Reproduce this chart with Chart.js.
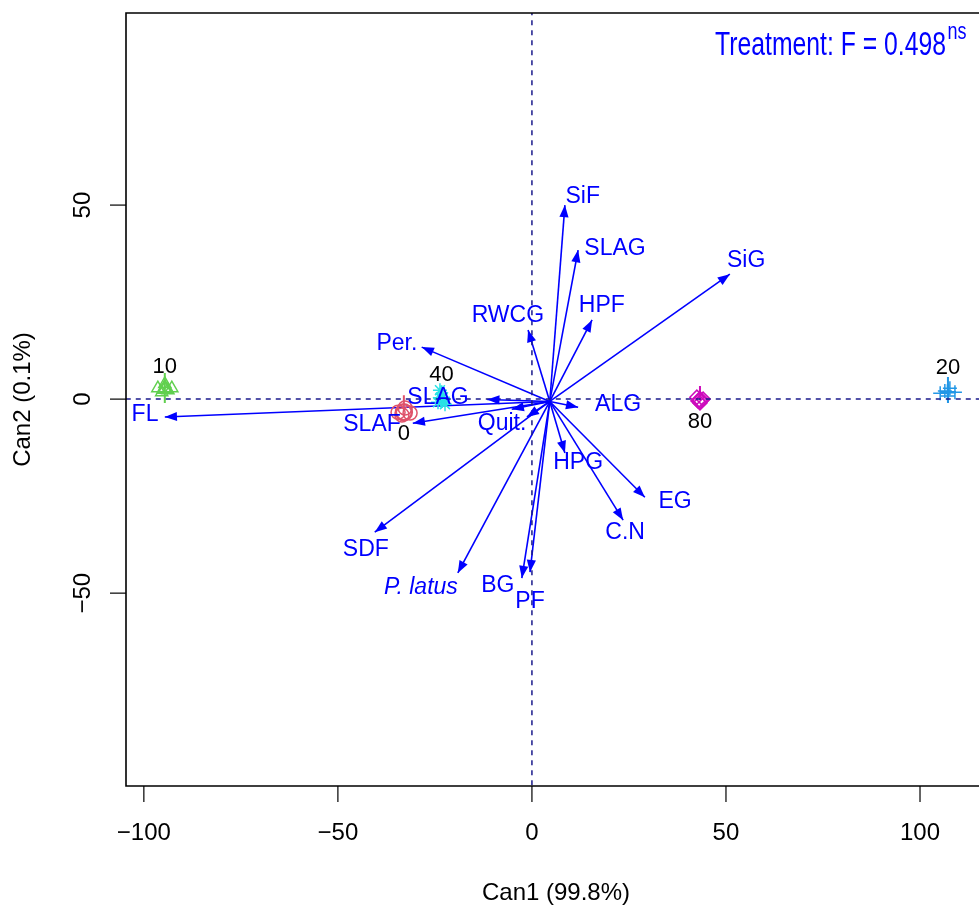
<!DOCTYPE html>
<html>
<head>
<meta charset="utf-8">
<script src="https://cdn.jsdelivr.net/npm/chart.js@4.4.1/dist/chart.umd.min.js"></script>
<style>
  body { margin: 0; overflow: hidden; background: #fff; }
  #wrap { width: 979px; height: 905px; }
</style>
</head>
<body>
<div id="wrap"><canvas id="can" width="979" height="905"></canvas></div>
<script>
// =====================================
// DATA
// =====================================
const ORIGIN = [4.6, -0.6];

const arrowNames = ["FL", "SLAF", "SLAG", "", "Quit.", "Per.", "RWCG", "SiF", "SLAG", "HPF",
                    "SiG", "ALG", "HPG", "EG", "C.N", "SDF", "P. latus", "BG", "PF"];
const arrowX = [-94.6, -30.7, -11.5, -5.2, -1.3, -28.4, -1.0, 8.5, 11.9, 15.5,
                51.0, 11.9, 8.5, 29.1, 23.5, -40.5, -19.1, -2.6, -0.5];
const arrowY = [-4.6, -6.2, -0.1, -2.6, -4.6, 13.4, 17.8, 50.0, 38.4, 20.4,
                32.2, -2.1, -13.9, -25.3, -31.2, -34.3, -44.8, -46.1, -44.6];
const labelX = [-99.7, -41.2, -24.2, 0, -7.7, -34.8, -6.2, 13.1, 21.4, 18.0,
                55.2, 22.2, 11.9, 36.9, 24.0, -42.8, -28.6, -8.8, -0.5];
const labelY = [-3.9, -6.7, 0.5, 0, -6.2, 14.4, 21.4, 52.1, 38.7, 24.2,
                35.6, -1.5, -16.5, -26.3, -34.3, -38.7, -48.5, -48.2, -52.1];

const groups = ["0", "10", "20", "40", "80"];
const groupColors = ["#DF536B", "#61D04F", "#2297E6", "#28E2E5", "#CD0BBC"];
const groupStyles = ["circle", "triangle", "cross", "star", "rectRot"];
const centerX = [-33.0, -94.6, 107.2, -23.3, 43.3];
const centerY = [-3.4, 2.7, 1.8, 0.2, -0.3];
const groupLabelY = [-9.0, 8.2, 8.0, 6.2, -5.9];
const spikeTop = [1.0, 6.7, 5.7, 3.6, 3.4];
const spikeBottom = [-3.0, -1.0, -1.0, -2.3, -0.3];
const repX = [
  [-34.5, -32.7, -31.4, -33.5],
  [-96.4, -94.6, -92.8, -95.4, -93.8],
  [106.4, 107.7, 109.0, 105.2, 107.2],
  [-23.7, -22.9, -24.2, -22.4],
  [42.5, 44.1, 43.3, 42.8]
];
const repY = [
  [-3.4, -2.3, -3.6, -4.1],
  [2.8, 3.9, 2.8, 1.8, 2.3],
  [2.1, 2.8, 1.8, 1.5, 0.8],
  [2.3, 0.5, -0.8, -1.3],
  [0.5, 0.0, -1.0, -0.5]
];

const xTicks = [-100, -50, 0, 50, 100];
const yTicks = [-50, 0, 50];

// =====================================
// DATASETS
// =====================================
const datasets = [];

// reference lines
datasets.push({ data: [{x: -200, y: 0}, {x: 200, y: 0}], showLine: true, borderColor: "#1a1a8c",
  borderWidth: 1.5, borderDash: [5, 5], pointRadius: 0 });
datasets.push({ data: [{x: 0, y: -200}, {x: 0, y: 200}], showLine: true, borderColor: "#1a1a8c",
  borderWidth: 1.5, borderDash: [5, 5], pointRadius: 0 });

// groups
groups.forEach((g, i) => {
  datasets.push({
    data: repX[i].map((x, j) => ({x: x, y: repY[i][j]})),
    pointStyle: groupStyles[i], pointRadius: 7, borderColor: groupColors[i],
    backgroundColor: "rgba(0,0,0,0)", pointBorderWidth: 1.5, showLine: false
  });
  datasets.push({
    data: [{x: centerX[i], y: spikeTop[i]}, {x: centerX[i], y: spikeBottom[i]}],
    showLine: true, borderColor: groupColors[i], borderWidth: 2, pointRadius: 0
  });
  datasets.push({
    data: [{x: centerX[i], y: centerY[i]}],
    pointStyle: groupStyles[i], pointRadius: 8, borderColor: groupColors[i],
    backgroundColor: "rgba(0,0,0,0)", pointBorderWidth: 2.5, showLine: false
  });
});

// arrows
arrowNames.forEach((n, i) => {
  datasets.push({
    data: [{x: ORIGIN[0], y: ORIGIN[1]}, {x: arrowX[i], y: arrowY[i]}],
    showLine: true, borderColor: "#0000FF", borderWidth: 1.6, pointRadius: 0
  });
});

// =====================================
// DECORATION PLUGIN
// =====================================
const decor = {
  id: "decor",
  afterDraw(chart) {
    const ctx = chart.ctx;
    const xs = chart.scales.x, ys = chart.scales.y;
    const a = chart.chartArea;
    const px = v => xs.getPixelForValue(v);
    const py = v => ys.getPixelForValue(v);

    ctx.save();
    // arrowheads
    ctx.fillStyle = "#0000FF";
    arrowNames.forEach((n, i) => {
      const x0 = px(ORIGIN[0]), y0 = py(ORIGIN[1]);
      const x1 = px(arrowX[i]), y1 = py(arrowY[i]);
      const ang = Math.atan2(y1 - y0, x1 - x0);
      const L = 13, w = 0.36;
      ctx.beginPath();
      ctx.moveTo(x1, y1);
      ctx.lineTo(x1 - L * Math.cos(ang - w), y1 - L * Math.sin(ang - w));
      ctx.lineTo(x1 - L * Math.cos(ang + w), y1 - L * Math.sin(ang + w));
      ctx.closePath();
      ctx.fill();
    });

    // arrow labels
    ctx.textAlign = "center";
    ctx.textBaseline = "middle";
    arrowNames.forEach((n, i) => {
      if (!n) return;
      ctx.font = (n === "P. latus" ? "italic " : "") + "23px 'Liberation Sans', Arial, sans-serif";
      ctx.fillText(n, px(labelX[i]), py(labelY[i]));
    });

    // group labels
    ctx.fillStyle = "#000";
    ctx.font = "22px 'Liberation Sans', Arial, sans-serif";
    groups.forEach((g, i) => {
      ctx.fillText(g, px(centerX[i]), py(groupLabelY[i]));
    });

    // frame (right side is off the page)
    ctx.strokeStyle = "#000";
    ctx.lineWidth = 1.6;
    ctx.beginPath();
    ctx.moveTo(a.right + 5, a.top);
    ctx.lineTo(a.left, a.top);
    ctx.lineTo(a.left, a.bottom);
    ctx.lineTo(a.right + 5, a.bottom);
    ctx.stroke();

    // ticks
    ctx.lineWidth = 1.2;
    ctx.font = "24px 'Liberation Sans', Arial, sans-serif";
    xTicks.forEach(t => {
      const x = px(t);
      ctx.beginPath(); ctx.moveTo(x, a.bottom); ctx.lineTo(x, a.bottom + 16); ctx.stroke();
      ctx.fillText(t < 0 ? "\u2212" + Math.abs(t) : String(t), x, a.bottom + 47);
    });
    yTicks.forEach(t => {
      const y = py(t);
      ctx.beginPath(); ctx.moveTo(a.left, y); ctx.lineTo(a.left - 16, y); ctx.stroke();
      ctx.save();
      ctx.translate(a.left - 43, y);
      ctx.rotate(-Math.PI / 2);
      ctx.fillText(t < 0 ? "\u2212" + Math.abs(t) : String(t), 0, 0);
      ctx.restore();
    });

    // axis titles
    ctx.fillText("Can1 (99.8%)", 556, 893);
    ctx.save();
    ctx.translate(23, (a.top + a.bottom) / 2);
    ctx.rotate(-Math.PI / 2);
    ctx.fillText("Can2 (0.1%)", 0, 0);
    ctx.restore();

    // treatment annotation (condensed)
    ctx.fillStyle = "#0000FF";
    ctx.textAlign = "left";
    ctx.textBaseline = "alphabetic";
    ctx.font = "33px 'Liberation Sans', Arial, sans-serif";
    const main = "Treatment: F = 0.498";
    const sx = 231 / ctx.measureText(main).width;
    ctx.save();
    ctx.translate(715, 55);
    ctx.scale(sx, 1);
    ctx.fillText(main, 0, 0);
    const mw = ctx.measureText(main).width;
    ctx.font = "24px 'Liberation Sans', Arial, sans-serif";
    ctx.fillText("ns", mw + 2, -16);
    ctx.restore();

    ctx.restore();
  }
};

// =====================================
// CHART
// =====================================
new Chart(document.getElementById("can"), {
  type: "scatter",
  data: { datasets: datasets },
  options: {
    responsive: false,
    animation: false,
    devicePixelRatio: 1,
    layout: { autoPadding: false, padding: { left: 126, top: 13, right: 0, bottom: 119 } },
    plugins: { legend: { display: false }, tooltip: { enabled: false } },
    scales: {
      x: { type: "linear", min: -104.6, max: 115.2, display: false },
      y: { type: "linear", min: -99.7, max: 99.5, display: false }
    }
  },
  plugins: [decor]
});
</script>
</body>
</html>
